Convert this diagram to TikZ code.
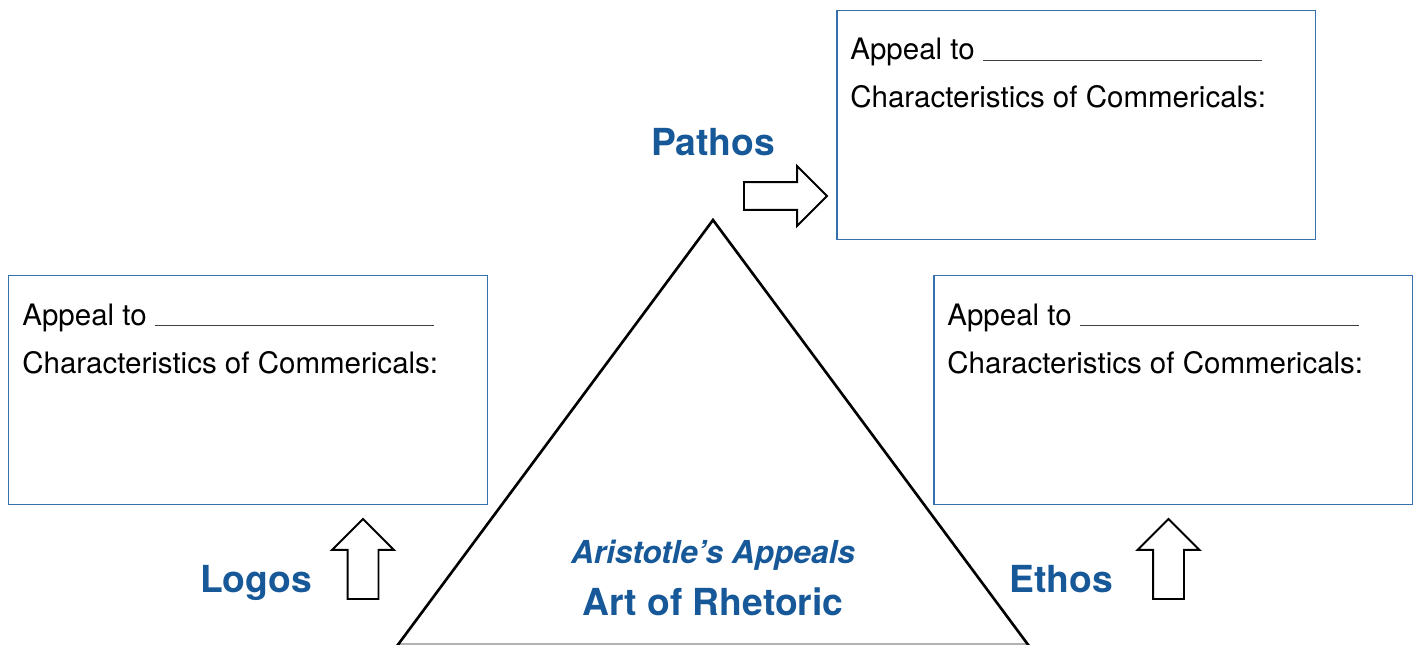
\documentclass[tikz,border=0pt]{standalone}
\usepackage{fontspec}
\setmainfont{TeX Gyre Heros}
\usetikzlibrary{shapes.arrows,positioning}
\definecolor{rhetblue}{RGB}{22,88,152}
\definecolor{boxblue}{RGB}{52,112,172}

\begin{document}
\begin{tikzpicture}[
  x=0.02cm,y=-0.02cm,
  appeal/.style={draw=boxblue,line width=0.85pt,minimum width=9.58cm,minimum height=4.58cm,inner sep=0pt,anchor=north west},
  field/.style={anchor=base west,inner sep=0pt,font=\fontsize{16.8}{20}\selectfont},
  title/.style={anchor=base,inner sep=0pt,text=rhetblue,font=\fontsize{21.2}{25}\selectfont\bfseries},
  hollow/.style={single arrow,draw,line width=1.1pt,outer sep=0pt,single arrow head indent=0pt,anchor=tip}
]
  \useasboundingbox (0,0) rectangle (1419,645);
  % the three answer boxes
  \node[appeal] (pathosbox) at (836,10) {};
  \node[appeal] (logosbox) at (8,275) {};
  \node[appeal] (ethosbox) at (933,275) {};
  \foreach \b in {pathosbox,logosbox,ethosbox}{
    \node[field] (\b-appeal) at ([shift={(14,50)}]\b.north west)
      {Appeal to \textcolor{darkgray}{\rule[-0.5pt]{5.58cm}{0.7pt}}};
    \node[field] (\b-chars) at ([shift={(14,98)}]\b.north west)
      {Characteristics of Commericals:};
  }
  % triangle
  \coordinate (apex) at (713,220);
  \coordinate (baseleft) at (397,646);
  \coordinate (baseright) at (1029,646);
  \draw[gray!60,line width=1pt] (398,644) -- (1028,644);
  \draw[line width=1.5pt,line join=miter] (baseleft) -- (apex) -- (baseright);
  \node[title,font=\fontsize{18}{21}\selectfont\bfseries\itshape] (aristotle) at (713,563) {Aristotle’s Appeals};
  \node[title] (rhetoric) at (713,615) {Art of Rhetoric};
  % appeals and arrows
  \node[title] (pathos) at (713,156) {Pathos};
  \node[title] (logos) at (256,592) {Logos};
  \node[title] (ethos) at (1061,592) {Ethos};
  \node[hollow,inner sep=0.26cm,minimum height=1.66cm,single arrow head extend=0.32cm]
    (pathosarrow) at (827,196) {};
  \node[hollow,shape border rotate=90,inner sep=0.29cm,minimum height=1.6cm,single arrow head extend=0.31cm]
    (logosarrow) at (363,519) {};
  \node[hollow,shape border rotate=90,inner sep=0.29cm,minimum height=1.6cm,single arrow head extend=0.31cm]
    (ethosarrow) at (1168.5,519) {};
\end{tikzpicture}
\end{document}
